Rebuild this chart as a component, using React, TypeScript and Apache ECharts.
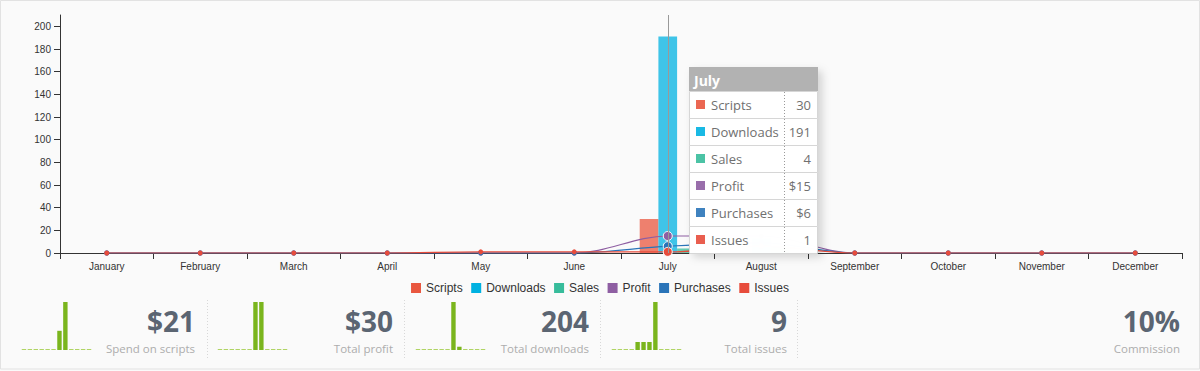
import React, { useEffect, useRef } from 'react';
import * as echarts from 'echarts';

// ---- data ----
const months = ['January', 'February', 'March', 'April', 'May', 'June', 'July', 'August', 'September', 'October', 'November', 'December'];
const scripts = [0, 0, 0, 0, 0, 0, 30, 0, 0, 0, 0, 0];
const downloads = [0, 0, 0, 0, 0, 0, 191, 13, 0, 0, 0, 0];
const sales = [0, 0, 0, 0, 0, 0, 4, 6, 0, 0, 0, 0];
const profit = [0, 0, 0, 0, 0, 0, 15, 15, 0, 0, 0, 0];
const purchases = [0, 0, 0, 0, 0, 0, 6, 9, 0, 0, 0, 0];
const issues = [0, 0, 0, 0, 1, 1, 1, 6, 0, 0, 0, 0];
const scriptSpend = [0, 0, 0, 0, 0, 0, 6, 15, 0, 0, 0, 0];
const commission = 10;
const focusMonth = 'July';

const seriesNames = ['Scripts', 'Downloads', 'Sales', 'Profit', 'Purchases', 'Issues'];
const seriesColors = ['#e9573f', '#00b1e1', '#37bc9b', '#8e5ea2', '#2a74b8', '#e74c3c'];
const seriesData = [scripts, downloads, sales, profit, purchases, issues];
const seriesKinds = ['bar', 'bar', 'bar', 'line', 'line', 'line'];
const valuePrefix = ['', '', '', '$', '$', ''];

const statSeries = [scriptSpend, profit, downloads, issues];
const statPrefix = ['$', '$', '', ''];
const statLabels = ['Spend on scripts', 'Total profit', 'Total downloads', 'Total issues'];

const OPEN = '"Open Sans", sans-serif';
const ARIAL = '"Liberation Sans", Arial, sans-serif';

export default function App() {
  const ref = useRef<HTMLDivElement>(null);
  useEffect(() => {
    if (!ref.current) return;
    const chart = echarts.init(ref.current, null, { renderer: 'svg' });
    const fi = months.indexOf(focusMonth);

    const grids: any[] = [{ left: 60, top: 15, width: 1122, height: 238 }];
    const xAxes: any[] = [{
      type: 'category', data: months, gridIndex: 0,
      axisLine: { lineStyle: { color: '#333', width: 1 } },
      axisTick: { show: true, length: 6, lineStyle: { color: '#333' } },
      axisLabel: { interval: 0, fontSize: 10, color: '#333', fontFamily: ARIAL, margin: 8 },
    }];
    const yAxes: any[] = [{
      type: 'value', gridIndex: 0, min: 0, max: 210, interval: 20,
      splitLine: { show: false },
      axisLine: { show: true, lineStyle: { color: '#333', width: 1 } },
      axisTick: { show: true, length: 6, lineStyle: { color: '#333' } },
      axisLabel: { showMaxLabel: false, fontSize: 10, color: '#333', fontFamily: ARIAL, margin: 9 },
    }];

    const series: any[] = seriesNames.map((name, k) => {
      const color = seriesColors[k];
      if (seriesKinds[k] === 'bar') {
        return {
          type: 'bar', name, xAxisIndex: 0, yAxisIndex: 0,
          barWidth: 18.7, barGap: '0%',
          itemStyle: { color },
          data: seriesData[k].map((v, i) => ({ value: v, itemStyle: { opacity: i === fi ? 0.75 : 1 } })),
          markLine: k === 1 ? {
            silent: true, symbol: ['none', 'none'], label: { show: false },
            lineStyle: { color: '#999', width: 1, type: 'solid' },
            data: [{ xAxis: focusMonth }],
          } : undefined,
        };
      }
      return {
        type: 'line', name, xAxisIndex: 0, yAxisIndex: 0,
        smooth: 0.35, symbol: 'circle', symbolSize: 5, showSymbol: true,
        lineStyle: { color, width: 1.2 },
        itemStyle: { color },
        data: seriesData[k].map((v, i) => (i === fi
          ? { value: v, symbolSize: 9, itemStyle: { color, borderColor: '#fff', borderWidth: 1 } }
          : v)),
      };
    });

    // sparklines
    const sparkLeft = [21, 217, 415, 611];
    statSeries.forEach((arr, s) => {
      const gi = s + 1;
      grids.push({ left: sparkLeft[s], top: 302, width: 71, height: 48 });
      xAxes.push({ type: 'category', gridIndex: gi, data: months, show: false });
      yAxes.push({ type: 'value', gridIndex: gi, min: 0, max: Math.max(...arr), show: false });
      series.push({
        type: 'bar', xAxisIndex: gi, yAxisIndex: gi, barWidth: 4.4, barMinHeight: 1,
        silent: true,
        data: arr.map((v) => ({ value: v, itemStyle: { color: v === 0 ? '#b0d464' : '#7ab51d' } })),
      });
    });

    const graphics: any[] = [];
    graphics.push({
      type: 'rect', z: -10,
      shape: { x: 0.5, y: 0.5, width: 1199, height: 368.5 },
      style: { fill: 'none', stroke: '#e2e2e2', lineWidth: 1 },
    });

    // stats panels
    const panelRight = [195, 393, 589, 787];
    const sepX = [207.5, 404.5, 600.5, 797.5];
    const bigY = 321, smallY = 348;
    statSeries.forEach((arr, s) => {
      const total = arr.reduce((a, b) => a + b, 0);
      graphics.push({
        type: 'text', x: panelRight[s], y: bigY,
        style: {
          text: statPrefix[s] + total, font: `bold 28px ${OPEN}`, fill: '#5b6572',
          align: 'right', textAlign: 'right', verticalAlign: 'middle', textVerticalAlign: 'middle',
        },
      });
      graphics.push({
        type: 'text', x: panelRight[s], y: smallY,
        style: {
          text: statLabels[s], font: `11.5px ${OPEN}`, fill: '#adadad',
          align: 'right', textAlign: 'right', verticalAlign: 'middle', textVerticalAlign: 'middle',
        },
      });
    });
    sepX.forEach((x) => {
      graphics.push({
        type: 'line', shape: { x1: x, y1: 300, x2: x, y2: 358 },
        style: { stroke: '#d8d8d8', lineWidth: 1, lineDash: [1, 2] },
      });
    });
    graphics.push({
      type: 'text', x: 1180, y: bigY,
      style: {
        text: commission + '%', font: `bold 28px ${OPEN}`, fill: '#5b6572',
        align: 'right', textAlign: 'right', verticalAlign: 'middle', textVerticalAlign: 'middle',
      },
    });
    graphics.push({
      type: 'text', x: 1180, y: smallY,
      style: {
        text: 'Commission', font: `11.5px ${OPEN}`, fill: '#adadad',
        align: 'right', textAlign: 'right', verticalAlign: 'middle', textVerticalAlign: 'middle',
      },
    });

    // tooltip (static, focused month)
    const tx = 689, ty = 67, tw = 129, headH = 24, rowH = 27, colX = 784;
    const tz = 100;
    const totalH = headH + rowH * seriesNames.length;
    graphics.push({
      type: 'rect', z: tz,
      shape: { x: tx, y: ty, width: tw, height: totalH },
      style: { fill: 'rgba(255,255,255,0.9)', shadowBlur: 8, shadowOffsetX: 4, shadowOffsetY: 4, shadowColor: 'rgba(0,0,0,0.18)' },
    });
    graphics.push({
      type: 'rect', z: tz,
      shape: { x: tx, y: ty, width: tw, height: headH },
      style: { fill: 'rgba(170,170,170,0.9)' },
    });
    graphics.push({
      type: 'text', z: tz, x: tx + 5, y: ty + headH / 2 + 1,
      style: {
        text: focusMonth, font: `bold 14px ${OPEN}`, fill: '#fff',
        align: 'left', textAlign: 'left', verticalAlign: 'middle', textVerticalAlign: 'middle',
      },
    });
    seriesNames.forEach((name, k) => {
      const ry = ty + headH + rowH * k;
      graphics.push({
        type: 'rect', z: tz,
        shape: { x: tx + 0.5, y: ry + 0.5, width: tw - 1, height: rowH },
        style: { fill: 'rgba(255,255,255,0.9)', stroke: '#d6d6d6', lineWidth: 1 },
      });
      graphics.push({
        type: 'rect', z: tz,
        shape: { x: tx + 7, y: ry + rowH / 2 - 4.5, width: 9, height: 9 },
        style: { fill: seriesColors[k], opacity: 0.9 },
      });
      graphics.push({
        type: 'text', z: tz, x: tx + 22, y: ry + rowH / 2 + 0.5,
        style: {
          text: name, font: `13px ${OPEN}`, fill: '#707070',
          align: 'left', textAlign: 'left', verticalAlign: 'middle', textVerticalAlign: 'middle',
        },
      });
      graphics.push({
        type: 'text', z: tz, x: tx + tw - 7, y: ry + rowH / 2 + 0.5,
        style: {
          text: valuePrefix[k] + seriesData[k][fi], font: `13px ${OPEN}`, fill: '#707070',
          align: 'right', textAlign: 'right', verticalAlign: 'middle', textVerticalAlign: 'middle',
        },
      });
      graphics.push({
        type: 'line', z: tz,
        shape: { x1: colX + 0.5, y1: ry + 1, x2: colX + 0.5, y2: ry + rowH },
        style: { stroke: '#999', lineWidth: 1, lineDash: [1, 2] },
      });
    });

    chart.setOption({
      animation: false,
      backgroundColor: '#fafafa',
      grid: grids,
      xAxis: xAxes,
      yAxis: yAxes,
      legend: {
        top: 277, left: 'center', icon: 'rect', itemWidth: 10, itemHeight: 10, itemGap: 8.5,
        textStyle: { fontSize: 12, color: '#333', fontFamily: ARIAL },
        data: seriesNames.map((n, k) => ({ name: n, itemStyle: { color: seriesColors[k], opacity: 1 } })),
      },
      series,
      graphic: graphics,
    });
    return () => chart.dispose();
  }, []);
  return <div ref={ref} style={{ position: 'absolute', left: 0, top: 0, width: 1200, height: 371 }} />;
}
